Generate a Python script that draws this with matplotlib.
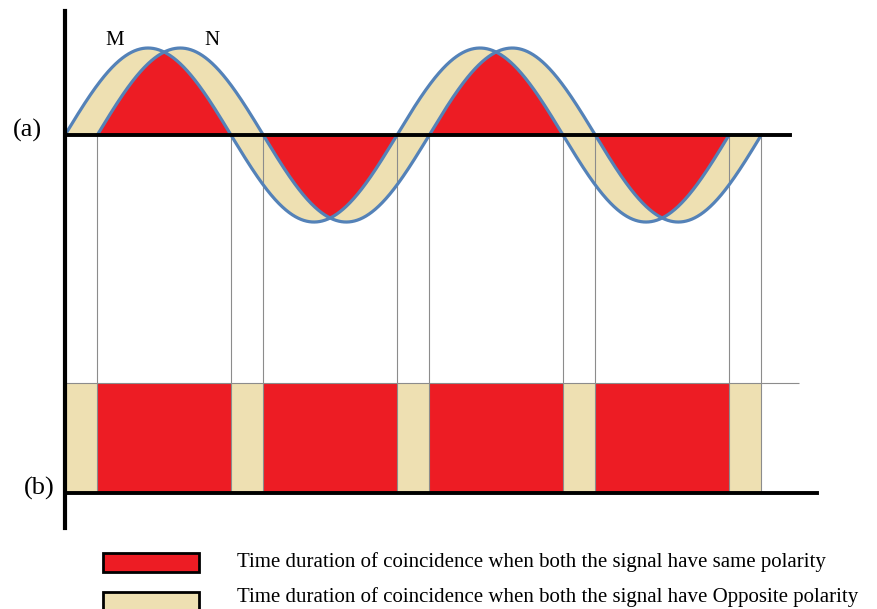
import numpy as np
import matplotlib
matplotlib.use("Agg")
import matplotlib.pyplot as plt
from matplotlib.patches import Rectangle

# signal parameters (x in degrees, y in amplitude units)
cycles_deg = 720          # M runs over two full cycles
lag_deg = 35              # N lags M
amp = 1.0

# coincidence segments shown in (b)
seg_edges = [0, 35, 180, 215, 360, 395, 540, 575, 720, 755]
seg_kind = ['opp', 'same', 'opp', 'same', 'opp', 'same', 'opp', 'same', 'opp']

legend_text = [
    'Time duration of coincidence when both the signal have same polarity',
    'Time duration of coincidence when both the signal have Opposite polarity',
]

RED = '#ED1C24'
BEIGE = '#EEE0B2'
WAVE = '#5482B8'
GRAY = '#8C8C8C'

fig = plt.figure(figsize=(8.77, 6.09), dpi=100)
ax = fig.add_axes([0, 0, 1, 1])
ax.set_xlim(-70.5, 880.5)
ax.set_ylim(-5.448, 1.552)
ax.axis('off')

x = np.linspace(-5, 765, 3000)
m_on = (x >= 0) & (x <= cycles_deg)
n_on = (x >= lag_deg) & (x <= cycles_deg + lag_deg)
M = np.where(m_on, amp * np.sin(np.radians(x)), 0)
N = np.where(n_on, amp * np.sin(np.radians(x - lag_deg)), 0)

# opposite / between the curves
ax.fill_between(x, M, N, color=BEIGE, lw=0)
# same polarity overlap
same = M * N > 0
inner = np.where(same, np.sign(M) * np.minimum(np.abs(M), np.abs(N)), 0)
ax.fill_between(x, 0, inner, color=RED, lw=0)

ax.plot(x[m_on], M[m_on], color=WAVE, lw=2.3, solid_capstyle='round', zorder=4)
ax.plot(x[n_on], N[n_on], color=WAVE, lw=2.3, solid_capstyle='round', zorder=4)

# (b) bar strip
bar_top, bar_bot = -2.851, -4.115
lefts = seg_edges[:-1]
widths = np.diff(seg_edges)
cols = [RED if k == 'same' else BEIGE for k in seg_kind]
ax.bar(lefts, bar_top - bar_bot, width=widths, bottom=bar_bot, align='edge',
       color=cols, lw=0, zorder=1)

# thin guide lines
ax.vlines(seg_edges[1:], bar_bot, 0, color=GRAY, lw=0.8, zorder=2)
ax.hlines(bar_top, 0, 796, color=GRAY, lw=0.8, zorder=2)

# axes lines
ax.plot([0, 0], [1.425, -4.517], color='black', lw=3, zorder=5)
ax.plot([0, 786], [0, 0], color='black', lw=2.8, zorder=5)
ax.plot([0, 815], [bar_bot, bar_bot], color='black', lw=2.8, zorder=5)

serif = ['Liberation Serif', 'DejaVu Serif']
ax.text(54, 1.09, 'M', fontsize=15, family=serif, ha='center', va='center')
ax.text(159, 1.09, 'N', fontsize=15, family=serif, ha='center', va='center')
ax.text(-41, 0.05, '(a)', fontsize=19, family=serif, ha='center', va='center')
ax.text(-28, -4.06, '(b)', fontsize=19, family=serif, ha='center', va='center')

# legend
for i, (col, txt) in enumerate(zip([RED, BEIGE], legend_text)):
    yc = -4.914 - i * 0.442
    ax.add_patch(Rectangle((41.2, yc - 0.105), 104.1, 0.21, facecolor=col,
                           edgecolor='black', lw=2, zorder=5))
    ax.text(186.5, yc + 0.01 + i * 0.04, txt, fontsize=15, family=serif,
            ha='left', va='center')

fig.savefig('out.png', dpi=100)
